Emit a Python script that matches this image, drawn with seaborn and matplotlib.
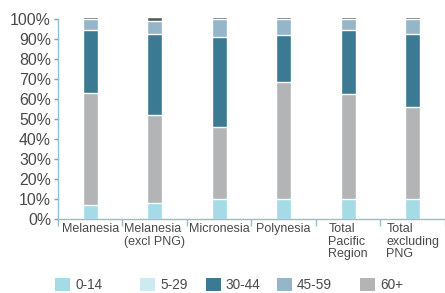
import numpy as np
import pandas as pd
import matplotlib
matplotlib.use("Agg")
import matplotlib.pyplot as plt
from matplotlib.patches import Patch
import seaborn as sns

categories = ["Melanesia", "Melanesia\n(excl PNG)", "Micronesia", "Polynesia",
              "Total\nPacific\nRegion", "Total\nexcluding\nPNG"]
age_0_14 = [7, 8, 10, 10, 10, 10]
age_60_plus = [56, 44, 36, 58.7, 52.5, 46]
age_30_44 = [31.5, 40.5, 45, 23.3, 32, 36.5]
age_45_59 = [5.5, 6.5, 9, 8, 5.5, 7.5]
other = [1.2, 2, 1.2, 1.2, 1.2, 1.2]
legend_labels = ["0-14", "5-29", "30-44", "45-59", "60+"]

c_0_14 = "#a3dbe6"
c_5_29 = "#cdeaf0"
c_30_44 = "#3c7a93"
c_45_59 = "#94b6c8"
c_60 = "#b3b4b6"
c_other = "#58595b"
axis_col = "#93bdd1"
tick_col = "#8c9aa3"
text_col = "#4a4a4a"

sns.set_theme(style="white")
plt.rcParams["font.family"] = ["Liberation Sans", "DejaVu Sans"]

segments = [age_0_14, age_60_plus, age_30_44, age_45_59, other]
colors = [c_0_14, c_60, c_30_44, c_45_59, c_other]
cum = np.cumsum(np.array(segments, dtype=float), axis=0) / 100.0

fig = plt.figure(figsize=(4.45, 2.93), dpi=100)
ax = fig.add_axes([0.1303, 0.2526, 0.8697, 0.702])

for i in range(len(segments) - 1, -1, -1):
    df = pd.DataFrame({"cat": categories, "val": cum[i]})
    sns.barplot(data=df, x="cat", y="val", color=colors[i], width=0.23,
                saturation=1, ax=ax, order=categories)

ax.set_ylim(0, 1.03)
ax.set_xlim(-0.5, 5.5)
ax.set_yticks(np.arange(0, 1.01, 0.1))
ax.set_yticklabels([f"{int(round(v*100))}%" for v in np.arange(0, 1.01, 0.1)])
ax.set_xlabel("")
ax.set_ylabel("")

for s in ["top", "right"]:
    ax.spines[s].set_visible(False)
ax.spines["left"].set_bounds(0, 1)
ax.spines["left"].set_color(axis_col)
ax.spines["bottom"].set_color(axis_col)
ax.spines["left"].set_linewidth(1.0)
ax.spines["bottom"].set_linewidth(1.0)

ax.set_xticks(np.arange(-0.5, 6, 1), minor=True)
ax.tick_params(axis="x", which="major", length=0, pad=3, labelsize=9, labelcolor=text_col)
ax.tick_params(axis="x", which="minor", length=5, width=1, color=axis_col, direction="out", bottom=True)
ax.tick_params(axis="y", which="major", length=3, width=1, color=tick_col, left=True,
               labelsize=11.4, labelcolor=text_col, pad=2)
for lab in ax.get_xticklabels():
    lab.set_multialignment("left")
    lab.set_linespacing(1.05)
    lab.set_va("top")

legend_colors = [c_0_14, c_5_29, c_30_44, c_45_59, c_60]
legend_x = [0.1236, 0.3146, 0.4629, 0.6225, 0.809]
for lbl, col, lx in zip(legend_labels, legend_colors, legend_x):
    leg = fig.legend([Patch(facecolor=col, edgecolor="none")], [lbl], loc="center left",
                     bbox_to_anchor=(lx, 0.027), frameon=False, fontsize=9.8,
                     handlelength=1.1, handleheight=1.1, handletextpad=0.37,
                     borderaxespad=0, borderpad=0)
    for t in leg.get_texts():
        t.set_color(text_col)

fig.savefig("out.png", dpi=100)
